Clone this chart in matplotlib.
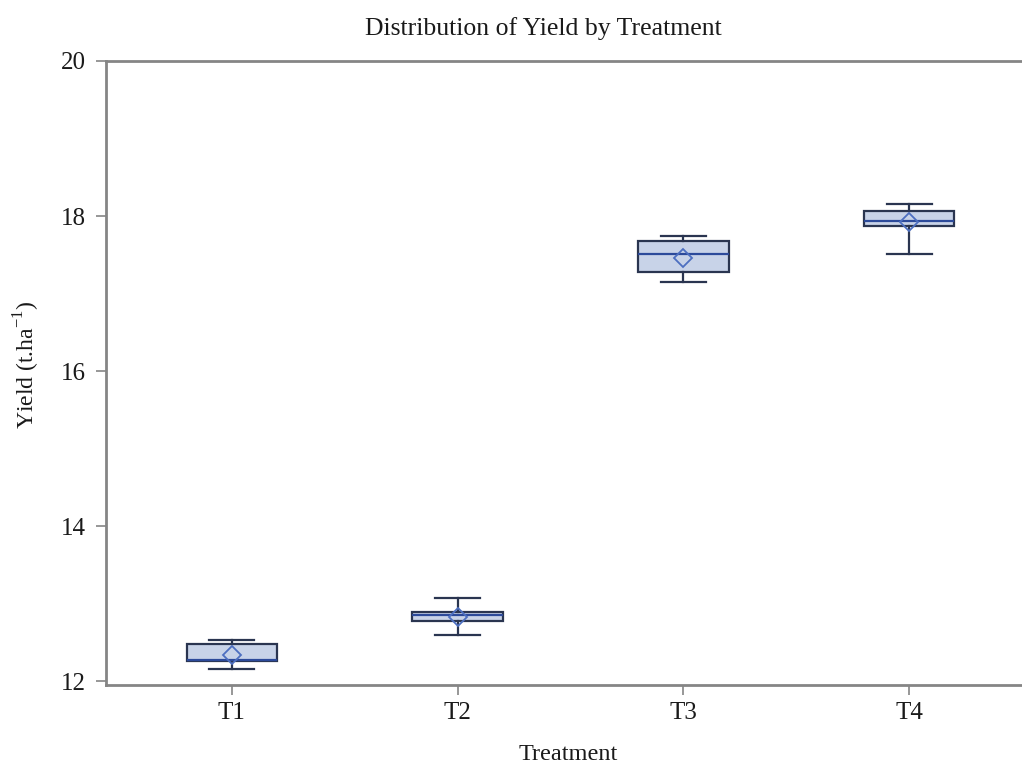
import matplotlib
matplotlib.use("Agg")
import matplotlib.pyplot as plt

treatments = ["T1", "T2", "T3", "T4"]
whisker_low = [12.15, 12.59, 17.15, 17.51]
q1 = [12.26, 12.77, 17.28, 17.87]
median = [12.27, 12.85, 17.51, 17.94]
q3 = [12.48, 12.89, 17.68, 18.06]
whisker_high = [12.53, 13.07, 17.74, 18.15]
mean = [12.34, 12.83, 17.46, 17.92]
y_ticks = [12, 14, 16, 18, 20]

stats = []
for i, t in enumerate(treatments):
    stats.append({
        "label": t,
        "whislo": whisker_low[i],
        "q1": q1[i],
        "med": median[i],
        "q3": q3[i],
        "whishi": whisker_high[i],
        "mean": mean[i],
        "fliers": [],
    })

plt.rcParams["font.family"] = ["Liberation Serif", "DejaVu Serif"]

W, H = 1022, 765
fig = plt.figure(figsize=(W / 100, H / 100), dpi=100)
# axes run past the right edge of the figure, as in the reference
ax = fig.add_axes([106 / W, 1 - 685 / H, (1030 - 106) / W, (685 - 61) / H])

edge = "#2a3550"
ax.bxp(
    stats,
    positions=range(len(treatments)),
    widths=0.4,
    showmeans=True,
    patch_artist=True,
    boxprops=dict(facecolor="#c8d3e8", edgecolor=edge, linewidth=1.6),
    whiskerprops=dict(color=edge, linewidth=1.6),
    capprops=dict(color=edge, linewidth=1.6),
    medianprops=dict(color="#2c4a9a", linewidth=1.6),
    meanprops=dict(marker="D", markerfacecolor="none", markeredgecolor="#4d6fc0",
                   markersize=9, markeredgewidth=1.3),
)

ax.set_xlim(-0.557, 3.535)
ax.set_ylim(11.95, 20.0)
ax.set_yticks(y_ticks)
ax.set_xticks(range(len(treatments)))
ax.set_xticklabels(treatments)

for s in ax.spines.values():
    s.set_color("#858585")
    s.set_linewidth(2.0)
ax.tick_params(axis="both", colors="#858585", length=7.5, width=1.2, labelsize=18,
               labelcolor="#1a1a1a")
ax.tick_params(axis="y", pad=7)
ax.tick_params(axis="x", pad=5)

fig.text(543 / W, 1 - 35 / H, "Distribution of Yield by Treatment", fontsize=18.5,
         ha="center", va="baseline", color="#1a1a1a")
fig.text(568 / W, 1 - 760 / H, "Treatment", fontsize=17.5, ha="center", va="baseline",
         color="#1a1a1a")
fig.text(27 / W, 1 - 365 / H, "Yield (t.ha$^{\\mathregular{-1}}$)", fontsize=17,
         rotation=90, ha="center", va="center", color="#1a1a1a")

fig.savefig("out.png", dpi=100)
